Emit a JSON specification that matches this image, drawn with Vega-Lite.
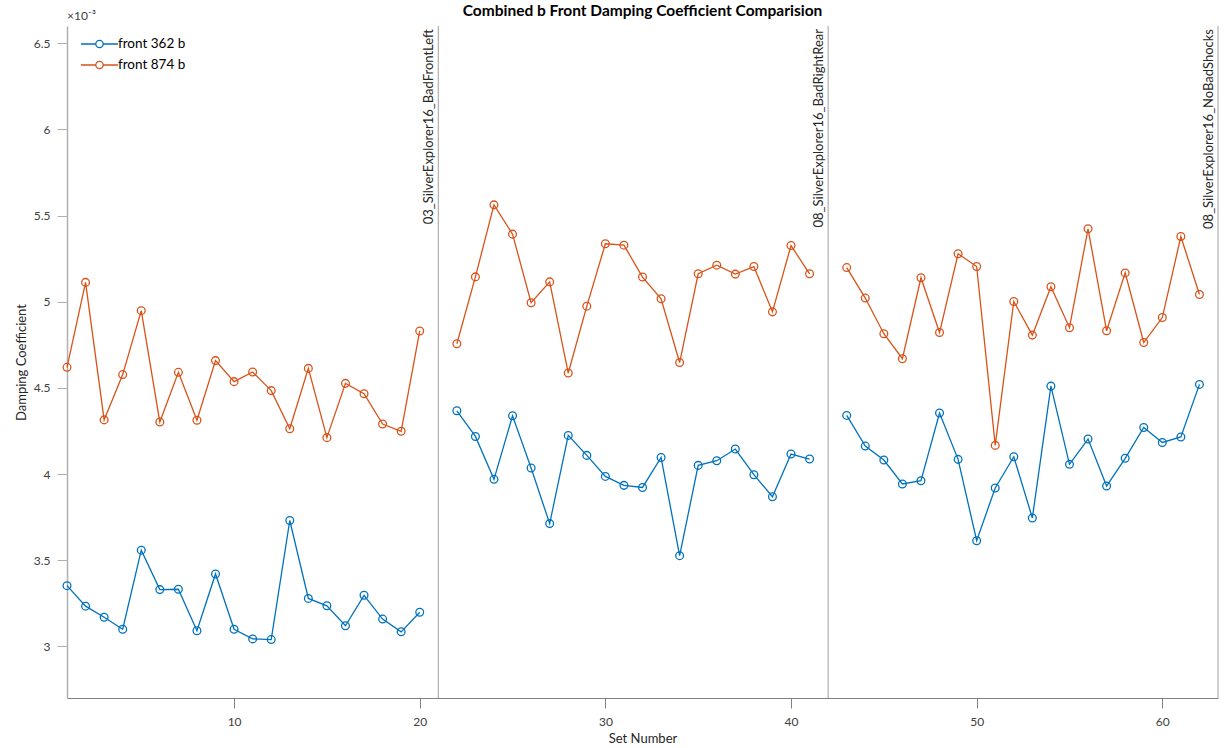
{
  "$schema": "https://vega.github.io/schema/vega-lite/v6.json",
  "width": 1151,
  "height": 672,
  "autosize": "none",
  "padding": {"left": 67, "top": 26, "right": 8, "bottom": 50},
  "background": "white",
  "title": {"text": "Combined b Front Damping Coefficient Comparision", "fontSize": 15.5, "fontWeight": "bold", "color": "#000000", "anchor": "middle", "offset": -9},
  "datasets": {
    "pts": [
      {"x": 1, "v": 3.352, "s": "front 362 b", "g": 1},
      {"x": 2, "v": 3.233, "s": "front 362 b", "g": 1},
      {"x": 3, "v": 3.169, "s": "front 362 b", "g": 1},
      {"x": 4, "v": 3.099, "s": "front 362 b", "g": 1},
      {"x": 5, "v": 3.558, "s": "front 362 b", "g": 1},
      {"x": 6, "v": 3.329, "s": "front 362 b", "g": 1},
      {"x": 7, "v": 3.331, "s": "front 362 b", "g": 1},
      {"x": 8, "v": 3.090, "s": "front 362 b", "g": 1},
      {"x": 9, "v": 3.420, "s": "front 362 b", "g": 1},
      {"x": 10, "v": 3.099, "s": "front 362 b", "g": 1},
      {"x": 11, "v": 3.043, "s": "front 362 b", "g": 1},
      {"x": 12, "v": 3.039, "s": "front 362 b", "g": 1},
      {"x": 13, "v": 3.730, "s": "front 362 b", "g": 1},
      {"x": 14, "v": 3.278, "s": "front 362 b", "g": 1},
      {"x": 15, "v": 3.235, "s": "front 362 b", "g": 1},
      {"x": 16, "v": 3.119, "s": "front 362 b", "g": 1},
      {"x": 17, "v": 3.296, "s": "front 362 b", "g": 1},
      {"x": 18, "v": 3.158, "s": "front 362 b", "g": 1},
      {"x": 19, "v": 3.084, "s": "front 362 b", "g": 1},
      {"x": 20, "v": 3.198, "s": "front 362 b", "g": 1},
      {"x": 22, "v": 4.367, "s": "front 362 b", "g": 2},
      {"x": 23, "v": 4.218, "s": "front 362 b", "g": 2},
      {"x": 24, "v": 3.969, "s": "front 362 b", "g": 2},
      {"x": 25, "v": 4.338, "s": "front 362 b", "g": 2},
      {"x": 26, "v": 4.035, "s": "front 362 b", "g": 2},
      {"x": 27, "v": 3.712, "s": "front 362 b", "g": 2},
      {"x": 28, "v": 4.224, "s": "front 362 b", "g": 2},
      {"x": 29, "v": 4.108, "s": "front 362 b", "g": 2},
      {"x": 30, "v": 3.986, "s": "front 362 b", "g": 2},
      {"x": 31, "v": 3.934, "s": "front 362 b", "g": 2},
      {"x": 32, "v": 3.922, "s": "front 362 b", "g": 2},
      {"x": 33, "v": 4.096, "s": "front 362 b", "g": 2},
      {"x": 34, "v": 3.526, "s": "front 362 b", "g": 2},
      {"x": 35, "v": 4.050, "s": "front 362 b", "g": 2},
      {"x": 36, "v": 4.077, "s": "front 362 b", "g": 2},
      {"x": 37, "v": 4.145, "s": "front 362 b", "g": 2},
      {"x": 38, "v": 3.996, "s": "front 362 b", "g": 2},
      {"x": 39, "v": 3.868, "s": "front 362 b", "g": 2},
      {"x": 40, "v": 4.116, "s": "front 362 b", "g": 2},
      {"x": 41, "v": 4.087, "s": "front 362 b", "g": 2},
      {"x": 43, "v": 4.340, "s": "front 362 b", "g": 3},
      {"x": 44, "v": 4.162, "s": "front 362 b", "g": 3},
      {"x": 45, "v": 4.081, "s": "front 362 b", "g": 3},
      {"x": 46, "v": 3.942, "s": "front 362 b", "g": 3},
      {"x": 47, "v": 3.961, "s": "front 362 b", "g": 3},
      {"x": 48, "v": 4.354, "s": "front 362 b", "g": 3},
      {"x": 49, "v": 4.085, "s": "front 362 b", "g": 3},
      {"x": 50, "v": 3.613, "s": "front 362 b", "g": 3},
      {"x": 51, "v": 3.919, "s": "front 362 b", "g": 3},
      {"x": 52, "v": 4.100, "s": "front 362 b", "g": 3},
      {"x": 53, "v": 3.745, "s": "front 362 b", "g": 3},
      {"x": 54, "v": 4.510, "s": "front 362 b", "g": 3},
      {"x": 55, "v": 4.056, "s": "front 362 b", "g": 3},
      {"x": 56, "v": 4.203, "s": "front 362 b", "g": 3},
      {"x": 57, "v": 3.930, "s": "front 362 b", "g": 3},
      {"x": 58, "v": 4.091, "s": "front 362 b", "g": 3},
      {"x": 59, "v": 4.270, "s": "front 362 b", "g": 3},
      {"x": 60, "v": 4.183, "s": "front 362 b", "g": 3},
      {"x": 61, "v": 4.215, "s": "front 362 b", "g": 3},
      {"x": 62, "v": 4.520, "s": "front 362 b", "g": 3},
      {"x": 1, "v": 4.619, "s": "front 874 b", "g": 1},
      {"x": 2, "v": 5.112, "s": "front 874 b", "g": 1},
      {"x": 3, "v": 4.314, "s": "front 874 b", "g": 1},
      {"x": 4, "v": 4.577, "s": "front 874 b", "g": 1},
      {"x": 5, "v": 4.948, "s": "front 874 b", "g": 1},
      {"x": 6, "v": 4.302, "s": "front 874 b", "g": 1},
      {"x": 7, "v": 4.590, "s": "front 874 b", "g": 1},
      {"x": 8, "v": 4.312, "s": "front 874 b", "g": 1},
      {"x": 9, "v": 4.658, "s": "front 874 b", "g": 1},
      {"x": 10, "v": 4.536, "s": "front 874 b", "g": 1},
      {"x": 11, "v": 4.592, "s": "front 874 b", "g": 1},
      {"x": 12, "v": 4.484, "s": "front 874 b", "g": 1},
      {"x": 13, "v": 4.263, "s": "front 874 b", "g": 1},
      {"x": 14, "v": 4.613, "s": "front 874 b", "g": 1},
      {"x": 15, "v": 4.211, "s": "front 874 b", "g": 1},
      {"x": 16, "v": 4.526, "s": "front 874 b", "g": 1},
      {"x": 17, "v": 4.466, "s": "front 874 b", "g": 1},
      {"x": 18, "v": 4.290, "s": "front 874 b", "g": 1},
      {"x": 19, "v": 4.248, "s": "front 874 b", "g": 1},
      {"x": 20, "v": 4.830, "s": "front 874 b", "g": 1},
      {"x": 22, "v": 4.756, "s": "front 874 b", "g": 2},
      {"x": 23, "v": 5.144, "s": "front 874 b", "g": 2},
      {"x": 24, "v": 5.562, "s": "front 874 b", "g": 2},
      {"x": 25, "v": 5.392, "s": "front 874 b", "g": 2},
      {"x": 26, "v": 4.994, "s": "front 874 b", "g": 2},
      {"x": 27, "v": 5.115, "s": "front 874 b", "g": 2},
      {"x": 28, "v": 4.586, "s": "front 874 b", "g": 2},
      {"x": 29, "v": 4.974, "s": "front 874 b", "g": 2},
      {"x": 30, "v": 5.336, "s": "front 874 b", "g": 2},
      {"x": 31, "v": 5.328, "s": "front 874 b", "g": 2},
      {"x": 32, "v": 5.143, "s": "front 874 b", "g": 2},
      {"x": 33, "v": 5.017, "s": "front 874 b", "g": 2},
      {"x": 34, "v": 4.647, "s": "front 874 b", "g": 2},
      {"x": 35, "v": 5.162, "s": "front 874 b", "g": 2},
      {"x": 36, "v": 5.212, "s": "front 874 b", "g": 2},
      {"x": 37, "v": 5.160, "s": "front 874 b", "g": 2},
      {"x": 38, "v": 5.204, "s": "front 874 b", "g": 2},
      {"x": 39, "v": 4.941, "s": "front 874 b", "g": 2},
      {"x": 40, "v": 5.326, "s": "front 874 b", "g": 2},
      {"x": 41, "v": 5.162, "s": "front 874 b", "g": 2},
      {"x": 43, "v": 5.198, "s": "front 874 b", "g": 3},
      {"x": 44, "v": 5.021, "s": "front 874 b", "g": 3},
      {"x": 45, "v": 4.814, "s": "front 874 b", "g": 3},
      {"x": 46, "v": 4.669, "s": "front 874 b", "g": 3},
      {"x": 47, "v": 5.139, "s": "front 874 b", "g": 3},
      {"x": 48, "v": 4.821, "s": "front 874 b", "g": 3},
      {"x": 49, "v": 5.278, "s": "front 874 b", "g": 3},
      {"x": 50, "v": 5.204, "s": "front 874 b", "g": 3},
      {"x": 51, "v": 4.166, "s": "front 874 b", "g": 3},
      {"x": 52, "v": 5.001, "s": "front 874 b", "g": 3},
      {"x": 53, "v": 4.806, "s": "front 874 b", "g": 3},
      {"x": 54, "v": 5.087, "s": "front 874 b", "g": 3},
      {"x": 55, "v": 4.849, "s": "front 874 b", "g": 3},
      {"x": 56, "v": 5.423, "s": "front 874 b", "g": 3},
      {"x": 57, "v": 4.831, "s": "front 874 b", "g": 3},
      {"x": 58, "v": 5.167, "s": "front 874 b", "g": 3},
      {"x": 59, "v": 4.763, "s": "front 874 b", "g": 3},
      {"x": 60, "v": 4.908, "s": "front 874 b", "g": 3},
      {"x": 61, "v": 5.378, "s": "front 874 b", "g": 3},
      {"x": 62, "v": 5.042, "s": "front 874 b", "g": 3}
    ],
    "seps": [
      {"sep": 21, "label": "03_SilverExplorer16_BadFrontLeft"},
      {"sep": 42, "label": "08_SilverExplorer16_BadRightRear"},
      {"sep": 63, "label": "08_SilverExplorer16_NoBadShocks"}
    ]
  },
  "layer": [
    {
      "data": {"name": "seps"},
      "mark": {"type": "rule", "color": "#a0a0a0", "strokeWidth": 1},
      "encoding": {
        "x": {"field": "sep", "type": "quantitative"}
      }
    },
    {
      "data": {"name": "seps"},
      "mark": {"type": "text", "angle": 270, "align": "right", "baseline": "bottom", "dx": -3, "dy": -2, "fontSize": 13, "color": "#262626"},
      "encoding": {
        "x": {"field": "sep", "type": "quantitative"},
        "y": {"datum": 6.6},
        "text": {"field": "label"}
      }
    },
    {
      "data": {"values": [{"x": 1, "v": 6.6, "t": "×10⁻³"}]},
      "mark": {"type": "text", "align": "left", "baseline": "bottom", "dy": -3, "fontSize": 12, "color": "#404040"},
      "encoding": {
        "x": {"field": "x", "type": "quantitative"},
        "y": {"field": "v", "type": "quantitative"},
        "text": {"field": "t"}
      }
    },
    {
      "data": {"name": "pts"},
      "mark": {"type": "line", "strokeWidth": 1.3},
      "encoding": {
        "x": {"field": "x", "type": "quantitative"},
        "y": {"field": "v", "type": "quantitative"},
        "color": {"field": "s", "type": "nominal"},
        "detail": {"field": "g", "type": "nominal"}
      }
    },
    {
      "data": {"name": "pts"},
      "mark": {"type": "point", "shape": "circle", "filled": false, "size": 60, "strokeWidth": 1.3, "opacity": 1},
      "encoding": {
        "x": {"field": "x", "type": "quantitative", "scale": {"domain": [1, 63], "nice": false, "zero": false},
              "axis": {"values": [10, 20, 30, 40, 50, 60], "title": "Set Number", "domainColor": "#808080", "tickColor": "#808080", "tickSize": 10, "labelPadding": 8, "titlePadding": 5}},
        "y": {"field": "v", "type": "quantitative", "scale": {"domain": [2.7, 6.6], "nice": false, "zero": false},
              "axis": {"values": [3, 3.5, 4, 4.5, 5, 5.5, 6, 6.5], "format": ".1~f", "title": "Damping Coefficient", "domainColor": "#b0b0b0", "domainWidth": 1.5, "tickColor": "#b0b0b0", "tickSize": 10, "labelPadding": 7, "titlePadding": 5}},
        "color": {"field": "s", "type": "nominal",
                  "scale": {"domain": ["front 362 b", "front 874 b"], "range": ["#0072BD", "#D95319"]},
                  "legend": {"title": null, "orient": "none", "legendX": 13, "legendY": 12, "padding": 0,
                             "symbolType": "M-1,0H-0.2M0.2,0H1M0.2,0A0.2,0.2,0,1,1,-0.2,0A0.2,0.2,0,1,1,0.2,0",
                             "symbolSize": 1369, "symbolStrokeWidth": 1.3, "symbolFillColor": "transparent",
                             "clipHeight": 12,
                             "labelFontSize": 13.5, "labelColor": "#000000", "labelOffset": -1, "rowPadding": 7}}
      }
    }
  ],
  "config": {
    "font": "Lato",
    "view": {"stroke": null},
    "axis": {"grid": false, "labelFontSize": 12, "labelColor": "#404040", "titleFontSize": 13, "titleFontWeight": "normal", "titleColor": "#262626", "domainWidth": 1}
  }
}
